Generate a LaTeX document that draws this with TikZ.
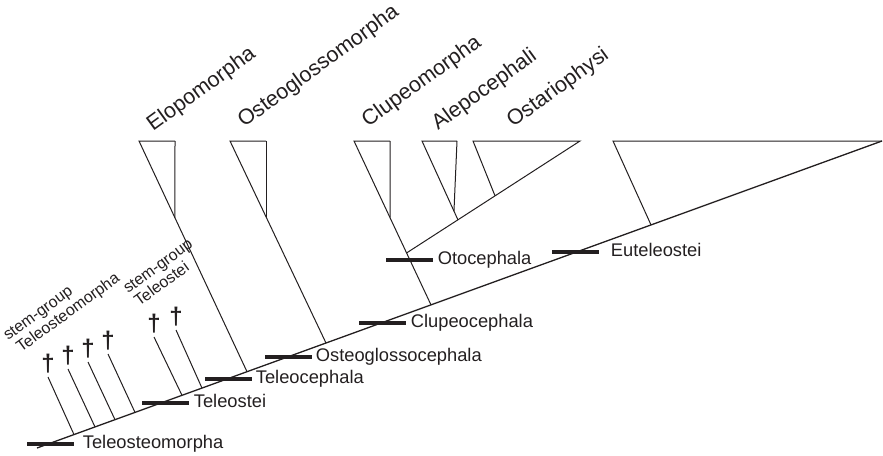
\documentclass[tikz,border=0pt]{standalone}
\usepackage{fontspec}
\setmainfont{Liberation Sans}
\usepackage{xcolor}
\usepackage{tikz}
\usetikzlibrary{calc, positioning}

\definecolor{ink}{RGB}{35,31,32}

\tikzset{
    branch/.style={draw=ink, line width=1pt, line join=miter},
    spine/.style={draw=ink, line width=1.3pt},
    bar/.style={rectangle, fill=ink, inner sep=0pt, minimum width=47pt, minimum height=3.3pt},
    lbl/.style={text=ink, inner sep=0pt, text height=13pt, text depth=4pt, font=\fontsize{18.3}{20}\selectfont},
    toplbl/.style={text=ink, inner sep=0pt, anchor=base west, rotate=36, font=\fontsize{21.5}{24}\selectfont},
    stemlbl/.style={text=ink, inner sep=0pt, anchor=base west, rotate=36, font=\fontsize{16}{18}\selectfont},
    dagger/.style={text=ink, inner sep=0pt, font=\fontsize{24}{26}\selectfont\bfseries}
}

\begin{document}
\begin{tikzpicture}[x=1pt, y=-1pt]
    \useasboundingbox (0,0) rectangle (883,455);

    % Trục chính
    \coordinate (root) at (37,448);
    \coordinate (tip)  at (882,141);
    \draw[spine] (root) -- (tip);

    % Các điểm nối trên trục chính
    \coordinate (j1) at (74,434.6);
    \coordinate (j2) at (95,426.9);
    \coordinate (j3) at (115,419.7);
    \coordinate (j4) at (135,412.4);
    \coordinate (j5) at (182,395.3);
    \coordinate (j6) at (202,388.1);
    \coordinate (jElo) at (247,371.7);
    \coordinate (jOst) at (326,343.0);
    \coordinate (jClu) at (431,304.9);
    \coordinate (jEut) at (651,224.9);

    % Nhánh hóa thạch (stem-group)
    \coordinate (s1) at (48,377);
    \coordinate (s2) at (68,369);
    \coordinate (s3) at (88,362);
    \coordinate (s4) at (108,354);
    \coordinate (s5) at (154,337);
    \coordinate (s6) at (176,330);
    \foreach \i in {1,...,6} {
        \draw[branch] (s\i) -- (j\i);
        \node[dagger, above=3.5pt of s\i] (d\i) {†};
    }

    % Elopomorpha
    \coordinate (eloTL) at (139,141);
    \coordinate (eloTR) at (175,141);
    \coordinate (eloB) at ($(eloTL)!0.333!(jElo)$);
    \draw[branch] (eloTR) -- (eloTL) -- (jElo);
    \draw[branch] (eloTR) -- (eloB);

    % Osteoglossomorpha
    \coordinate (ostTL) at (230,141);
    \coordinate (ostTR) at (266,141);
    \coordinate (ostB) at ($(ostTL)!0.375!(jOst)$);
    \draw[branch] (ostTR) -- (ostTL) -- (jOst);
    \draw[branch] (ostTR) -- (ostB);

    % Clupeomorpha và Otocephala
    \coordinate (cluTL) at (354,141);
    \coordinate (cluTR) at (390,141);
    \coordinate (cluB) at ($(cluTL)!0.4675!(jClu)$);
    \coordinate (oto) at ($(cluTL)!0.683!(jClu)$);
    \draw[branch] (cluTR) -- (cluTL) -- (jClu);
    \draw[branch] (cluTR) -- (cluB);

    % Alepocephali và Ostariophysi
    \coordinate (osaTR) at (580,141);
    \coordinate (jAle) at ($(oto)!0.296!(osaTR)$);
    \coordinate (jOsa) at ($(oto)!0.51!(osaTR)$);
    \coordinate (aleTL) at (422,141);
    \coordinate (aleTR) at (457,141);
    \coordinate (aleB) at ($(aleTL)!0.89!(jAle)$);
    \coordinate (osaTL) at (473,141);
    \draw[branch] (oto) -- (osaTR) -- (osaTL) -- (jOsa);
    \draw[branch] (aleTR) -- (aleTL) -- (jAle);
    \draw[branch] (aleTR) -- (aleB);

    % Euteleostei
    \coordinate (eutTL) at (613,141);
    \draw[branch] (tip) -- (eutTL) -- (jEut);

    % Vạch ngang và tên các nhóm
    \node[bar] (bTom) at (50,444) {};
    \node[bar] (bTei) at (165,403) {};
    \node[bar] (bTce) at (228,379) {};
    \node[bar] (bOce) at (288,357) {};
    \node[bar] (bCce) at (382,323) {};
    \node[bar] (bOto) at ($(cluTL)!0.726!(jClu)$) {};
    \node[bar] (bEut) at (575,252) {};
    \node[lbl, right=9pt of bTom] (lTom) {Teleosteomorpha};
    \node[lbl, right=5pt of bTei] (lTei) {Teleostei};
    \node[lbl, right=4pt of bTce] (lTce) {Teleocephala};
    \node[lbl, right=4pt of bOce] (lOce) {Osteoglossocephala};
    \node[lbl, right=5pt of bCce] (lCce) {Clupeocephala};
    \node[lbl, right=4pt of bOto] (lOto) {Otocephala};
    \node[lbl, right=12pt of bEut] (lEut) {Euteleostei};

    % Tên các nhánh phía trên
    \node[toplbl] (nElo) at (153,132) {Elopomorpha};
    \node[toplbl] (nOst) at (244,128) {Osteoglossomorpha};
    \node[toplbl] (nClu) at (368,128) {Clupeomorpha};
    \node[toplbl] (nAle) at (438,131) {Alepocephali};
    \node[toplbl] (nOsa) at (513,128) {Ostariophysi};

    % Nhóm thân (stem-group)
    \node[stemlbl] (gTom1) at (8,341) {stem-group};
    \node[stemlbl] (gTom2) at (21,353) {Teleosteomorpha};
    \node[stemlbl] (gTei1) at (128,294) {stem-group};
    \node[stemlbl] (gTei2) at (139,307) {Teleostei};
\end{tikzpicture}
\end{document}
